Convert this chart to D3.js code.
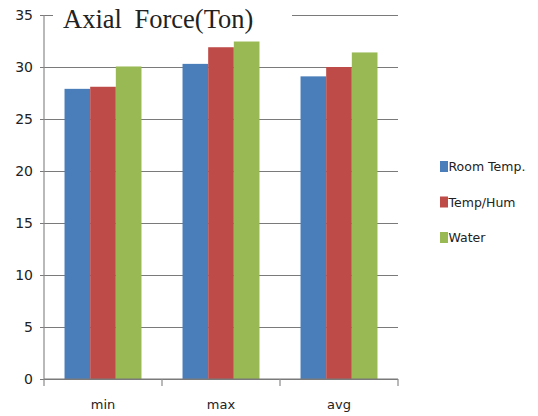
<!DOCTYPE html>
<html>
<head>
<meta charset="utf-8">
<script src="https://cdn.jsdelivr.net/npm/d3@7"></script>
<style>
  html, body { margin: 0; padding: 0; background: #fff; }
  svg { display: block; }
</style>
</head>
<body>
<svg id="chart" width="538" height="416"></svg>
<script>
// Axial force by condition
const categories = ["min", "max", "avg"];
const seriesNames = ["Room Temp.", "Temp/Hum", "Water"];
const roomTemp = [27.9, 30.3, 29.1];
const tempHum = [28.1, 31.9, 30.0];
const water = [30.05, 32.45, 31.4];
const yTicks = [0, 5, 10, 15, 20, 25, 30, 35];
const colors = ["#4a7ebb", "#be4b48", "#98b954"];

const seriesValues = [roomTemp, tempHum, water];
const rows = categories.map((c, i) => ({
  cat: c,
  vals: seriesNames.map((s, j) => ({ key: s, value: seriesValues[j][i] }))
}));

const svg = d3.select("#chart");
const plotLeft = 44, plotRight = 398, plotTop = 15, plotBottom = 379;

const x0 = d3.scaleBand().domain(categories).range([plotLeft, plotRight]).padding(0);
const x1 = d3.scaleBand().domain(seriesNames).range([0, x0.bandwidth()])
  .paddingInner(0).paddingOuter(0.8);
const y = d3.scaleLinear().domain([0, 35]).range([plotBottom, plotTop]);
const color = d3.scaleOrdinal().domain(seriesNames).range(colors);

// gridlines + y labels
const yAxis = d3.axisLeft(y).tickValues(yTicks).tickSize(0).tickPadding(11);
const gy = svg.append("g").attr("transform", `translate(${plotLeft},0)`).call(yAxis);
gy.select(".domain").remove();
gy.selectAll(".tick text")
  .attr("font-family", "DejaVu Sans, sans-serif")
  .attr("font-size", 14)
  .attr("fill", "#222");
gy.selectAll(".tick").append("line")
  .attr("x1", -4).attr("x2", plotRight - plotLeft)
  .attr("stroke", "#7a7a7a").attr("stroke-width", 1.2);

// bars
const groups = svg.append("g").selectAll("g")
  .data(rows).join("g")
  .attr("transform", d => `translate(${x0(d.cat)},0)`);
groups.selectAll("rect")
  .data(d => d.vals).join("rect")
  .attr("x", d => x1(d.key))
  .attr("width", x1.bandwidth())
  .attr("y", d => y(d.value))
  .attr("height", d => y(0) - y(d.value))
  .attr("fill", d => color(d.key));

// y axis line
svg.append("line")
  .attr("x1", plotLeft).attr("x2", plotLeft)
  .attr("y1", y(35)).attr("y2", y(0))
  .attr("stroke", "#8a8a8a").attr("stroke-width", 1.2);

// x axis
svg.append("line")
  .attr("x1", plotLeft).attr("x2", plotRight)
  .attr("y1", y(0)).attr("y2", y(0))
  .attr("stroke", "#7a7a7a").attr("stroke-width", 1.2);
const edges = categories.map(c => x0(c)).concat([x0(categories[categories.length - 1]) + x0.bandwidth()]);
svg.append("g").selectAll("line")
  .data(edges).join("line")
  .attr("x1", d => d).attr("x2", d => d)
  .attr("y1", y(0)).attr("y2", y(0) + 7)
  .attr("stroke", "#8a8a8a").attr("stroke-width", 1.2);
svg.append("g").selectAll("text")
  .data(categories).join("text")
  .attr("x", d => x0(d) + x0.bandwidth() / 2)
  .attr("y", 409)
  .attr("text-anchor", "middle")
  .attr("font-family", "DejaVu Sans, sans-serif")
  .attr("font-size", 13)
  .attr("fill", "#222")
  .text(d => d);

// title on a white patch over the top gridline
svg.append("rect")
  .attr("x", 53).attr("y", 2).attr("width", 239).attr("height", 28)
  .attr("fill", "#fff");
svg.append("text")
  .attr("x", 63).attr("y", 28)
  .attr("font-family", "Liberation Serif, serif")
  .attr("font-size", 26.5)
  .attr("word-spacing", 6)
  .attr("fill", "#222")
  .text("Axial Force(Ton)");

// legend
const legend = svg.append("g").selectAll("g")
  .data(seriesNames).join("g")
  .attr("transform", (d, i) => `translate(440,${167 + i * 35.5})`);
legend.append("rect")
  .attr("x", 0).attr("y", -6).attr("width", 8).attr("height", 11)
  .attr("fill", d => color(d));
legend.append("text")
  .attr("x", 8.5).attr("y", 0)
  .attr("dy", "0.35em")
  .attr("font-family", "DejaVu Sans, sans-serif")
  .attr("font-size", 12.5)
  .attr("fill", "#222")
  .text(d => d);
</script>
</body>
</html>
